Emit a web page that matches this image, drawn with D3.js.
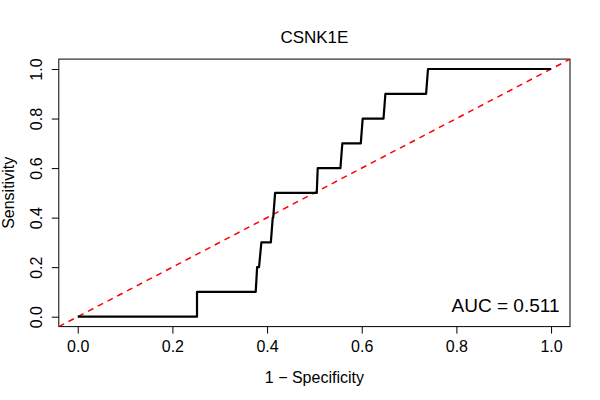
<!DOCTYPE html>
<html>
<head>
<meta charset="utf-8">
<script src="https://cdn.jsdelivr.net/npm/d3@7"></script>
<style>
  body { margin: 0; background: #fff; }
  text { font-family: "Liberation Sans", Arial, Helvetica, sans-serif; fill: #000; }
</style>
</head>
<body>
<svg width="600" height="400"></svg>
<script>
// ROC curve points (1 - specificity, sensitivity)
const fpr = [0, 0.252, 0.252, 0.376, 0.379, 0.383, 0.388, 0.408, 0.412, 0.413, 0.417,
             0.505, 0.507, 0.555, 0.559, 0.598, 0.602, 0.646, 0.650, 0.736, 0.740, 1.0];
const tpr = [0, 0, 0.1, 0.1, 0.2, 0.2, 0.3, 0.3, 0.4, 0.4, 0.5,
             0.5, 0.6, 0.6, 0.7, 0.7, 0.8, 0.8, 0.9, 0.9, 1.0, 1.0];
const tickValues = [0, 0.2, 0.4, 0.6, 0.8, 1.0];
const chartTitle = "CSNK1E";
const aucLabel = "AUC = 0.511";

const width = 600, height = 400;
const svg = d3.select("svg")
    .attr("width", width)
    .attr("height", height);

// plot region, R style: data range padded by 4% on each side
const plotLeft = 58.8, plotRight = 570, plotTop = 59.1, plotBottom = 326.6;

const x = d3.scaleLinear().domain([-0.04, 1.04]).range([plotLeft, plotRight]);
const y = d3.scaleLinear().domain([-0.04, 1.04]).range([plotBottom, plotTop]);

svg.append("clipPath").attr("id", "plotclip")
  .append("rect")
    .attr("x", plotLeft).attr("y", plotTop)
    .attr("width", plotRight - plotLeft).attr("height", plotBottom - plotTop);

// x axis
const gx = svg.append("g")
    .attr("transform", `translate(0,${plotBottom})`)
    .call(d3.axisBottom(x).tickValues(tickValues).tickFormat(d3.format(".1f")).tickSize(7).tickSizeOuter(0));
gx.select(".domain").remove();
gx.selectAll("line").attr("stroke", "#000");
gx.selectAll("text")
    .attr("y", 25.4).attr("dy", null)
    .attr("font-size", 16).attr("fill", "#000");

// y axis with rotated labels
const gy = svg.append("g")
    .attr("transform", `translate(${plotLeft},0)`)
    .call(d3.axisLeft(y).tickValues(tickValues).tickFormat(d3.format(".1f")).tickSize(7).tickSizeOuter(0));
gy.select(".domain").remove();
gy.selectAll("line").attr("stroke", "#000");
gy.selectAll("text")
    .attr("x", null).attr("dy", null)
    .attr("transform", "translate(-17.3,0) rotate(-90)")
    .attr("text-anchor", "middle")
    .attr("font-size", 16).attr("fill", "#000");

// box around plot region
svg.append("rect")
    .attr("x", plotLeft).attr("y", plotTop)
    .attr("width", plotRight - plotLeft).attr("height", plotBottom - plotTop)
    .attr("fill", "none")
    .attr("stroke", "#000")
    .attr("stroke-width", 1);

// diagonal reference line (abline 0,1)
svg.append("line")
    .attr("clip-path", "url(#plotclip)")
    .attr("x1", x(-0.04)).attr("y1", y(-0.04))
    .attr("x2", x(1.04)).attr("y2", y(1.04))
    .attr("stroke", "#ff0000")
    .attr("stroke-width", 1.5)
    .attr("stroke-dasharray", "6,5");

// ROC curve
const pts = fpr.map((d, i) => [d, tpr[i]]);
svg.append("path")
    .datum(pts)
    .attr("fill", "none")
    .attr("stroke", "#000")
    .attr("stroke-width", 2.2)
    .attr("stroke-linejoin", "round")
    .attr("d", d3.line().x(d => x(d[0])).y(d => y(d[1])));

// texts
svg.append("text")
    .attr("x", (plotLeft + plotRight) / 2).attr("y", 42.5)
    .attr("text-anchor", "middle")
    .attr("font-size", 17)
    .text(chartTitle);

svg.append("text")
    .attr("x", 559.5).attr("y", 311.5)
    .attr("text-anchor", "end")
    .attr("font-size", 19)
    .text(aucLabel);

svg.append("text")
    .attr("x", (plotLeft + plotRight) / 2).attr("y", 382.5)
    .attr("text-anchor", "middle")
    .attr("font-size", 16)
    .text("1 \u2212 Specificity");

svg.append("text")
    .attr("transform", `translate(13.8,${(plotTop + plotBottom) / 2}) rotate(-90)`)
    .attr("text-anchor", "middle")
    .attr("font-size", 16)
    .text("Sensitivity");
</script>
</body>
</html>
